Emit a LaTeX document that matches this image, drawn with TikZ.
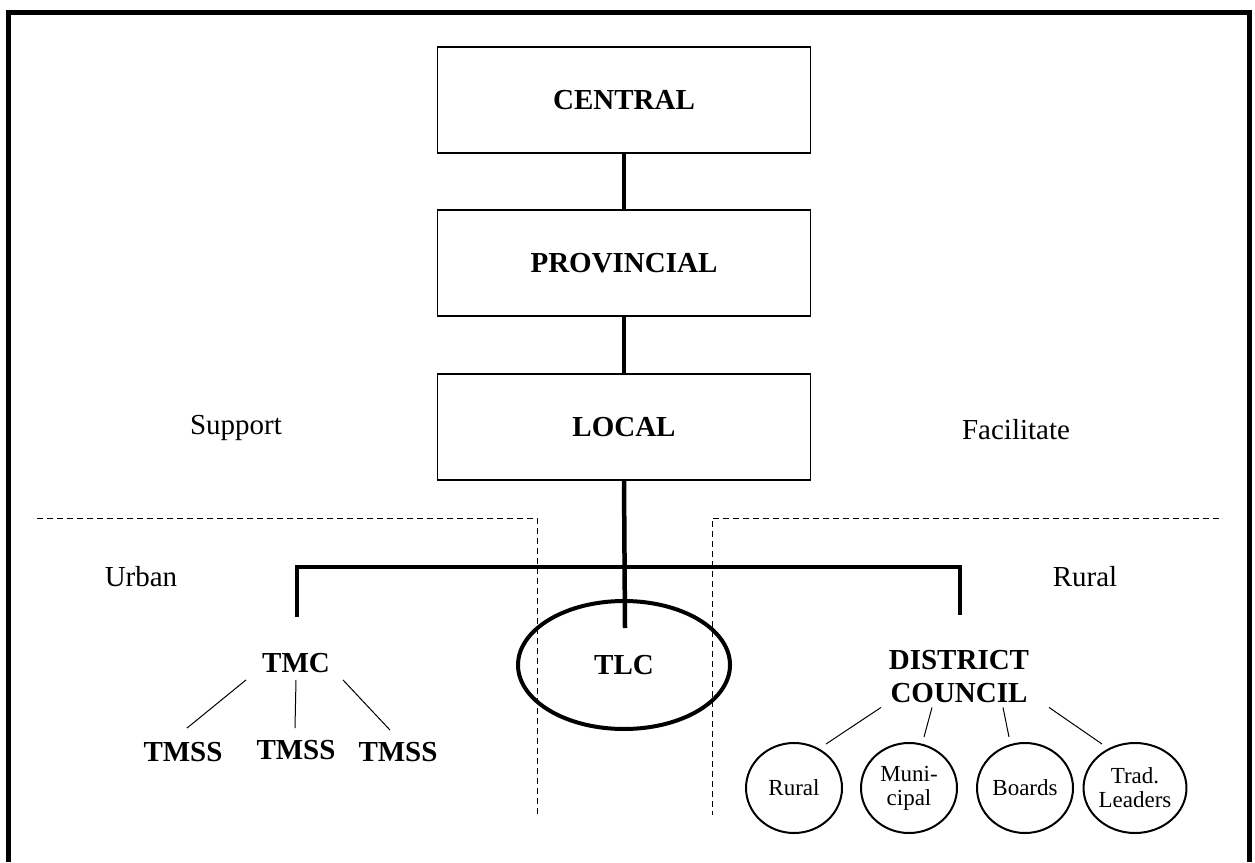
\documentclass[tikz,border=0pt]{standalone}
\usepackage{fontspec}
\setmainfont{Liberation Serif}
\usetikzlibrary{shapes.geometric}
\begin{document}
\begin{tikzpicture}[x=1pt,y=-1pt,
  levelbox/.style={draw,line width=1.5pt,minimum width=373,minimum height=106,inner sep=0,
    font=\fontsize{29}{33}\selectfont\bfseries},
  label/.style={inner sep=0,font=\fontsize{29}{33}\selectfont},
  unit/.style={inner sep=0,font=\fontsize{29}{33}\selectfont\bfseries,align=center},
  sub/.style={draw,ellipse,line width=2pt,minimum width=96,minimum height=90,inner sep=0,
    align=center,font=\fontsize{23}{24}\selectfont},
  conn/.style={line width=4.5pt},
  branch/.style={line width=1pt},
  zone/.style={line width=1pt,dash pattern=on 6pt off 4pt}
]
\useasboundingbox (0,0) rectangle (1255,862);

% outer frame, open at the bottom
\draw[line width=5pt] (8,862) -- (8,12) -- (1249,12) -- (1249,862);

% government levels
\node[levelbox] (central) at (624,100) {CENTRAL};
\node[levelbox] (provincial) at (624,263) {PROVINCIAL};
\node[levelbox] (local) at (624,427) {LOCAL};
\draw[conn] (central.south) -- (provincial.north);
\draw[conn] (provincial.south) -- (local.north);

% side labels
\node[label] (support) at (236,428) {Support};
\node[label] (facilitate) at (1016,430) {Facilitate};
\node[label] (urban) at (141,577) {Urban};
\node[label] (rural) at (1085,577) {Rural};

% urban and rural zones
\draw[zone] (37,518) -- (537,518) -- (537,815);
\draw[zone] (1219,518) -- (712,518) -- (712,815);

% local structures
\node[unit] (tmc) at (296,663) {TMC};
\node[draw,ellipse,line width=4pt,minimum width=212,minimum height=128,inner sep=0,
  font=\fontsize{29}{33}\selectfont\bfseries] (tlc) at (624,665) {TLC};
\node[unit] (dc) at (959,677) {DISTRICT\\COUNCIL};

\coordinate (tlcstem) at (625,628);
\coordinate (tmctop) at (297,617);
\coordinate (tmcbar) at (297,567);
\coordinate (dcbar) at (960,567);
\coordinate (dctop) at (960,615);
\draw[conn] (local.south) -- (tlcstem);
\draw[conn] (tmctop) -- (tmcbar) -- (dcbar) -- (dctop);

% urban substructures
\node[unit] (tmss1) at (183,752) {TMSS};
\node[unit] (tmss2) at (296,750) {TMSS};
\node[unit] (tmss3) at (398,752) {TMSS};
\draw[branch] ([shift={(-50,7)}]tmc.south) -- ([shift={(4,-14)}]tmss1.north);
\draw[branch] ([shift={(0,7)}]tmc.south) -- ([shift={(-1,-12)}]tmss2.north);
\draw[branch] ([shift={(47,7)}]tmc.south) -- ([shift={(-8,-12)}]tmss3.north);

% rural substructures
\node[sub] (c1) at (794,788) {Rural};
\node[sub] (c2) at (909,788) {Muni-\\cipal};
\node[sub] (c3) at (1025,788) {Boards};
\node[sub] (c4) at (1135,788) {Trad.\\Leaders};
\draw[branch] ([shift={(-78,4)}]dc.south) -- ([shift={(32,2)}]c1.north);
\draw[branch] ([shift={(-27,4)}]dc.south) -- ([shift={(15,-5)}]c2.north);
\draw[branch] ([shift={(44,4)}]dc.south) -- ([shift={(-16,-5)}]c3.north);
\draw[branch] ([shift={(90,4)}]dc.south) -- ([shift={(-33,2)}]c4.north);
\end{tikzpicture}
\end{document}
